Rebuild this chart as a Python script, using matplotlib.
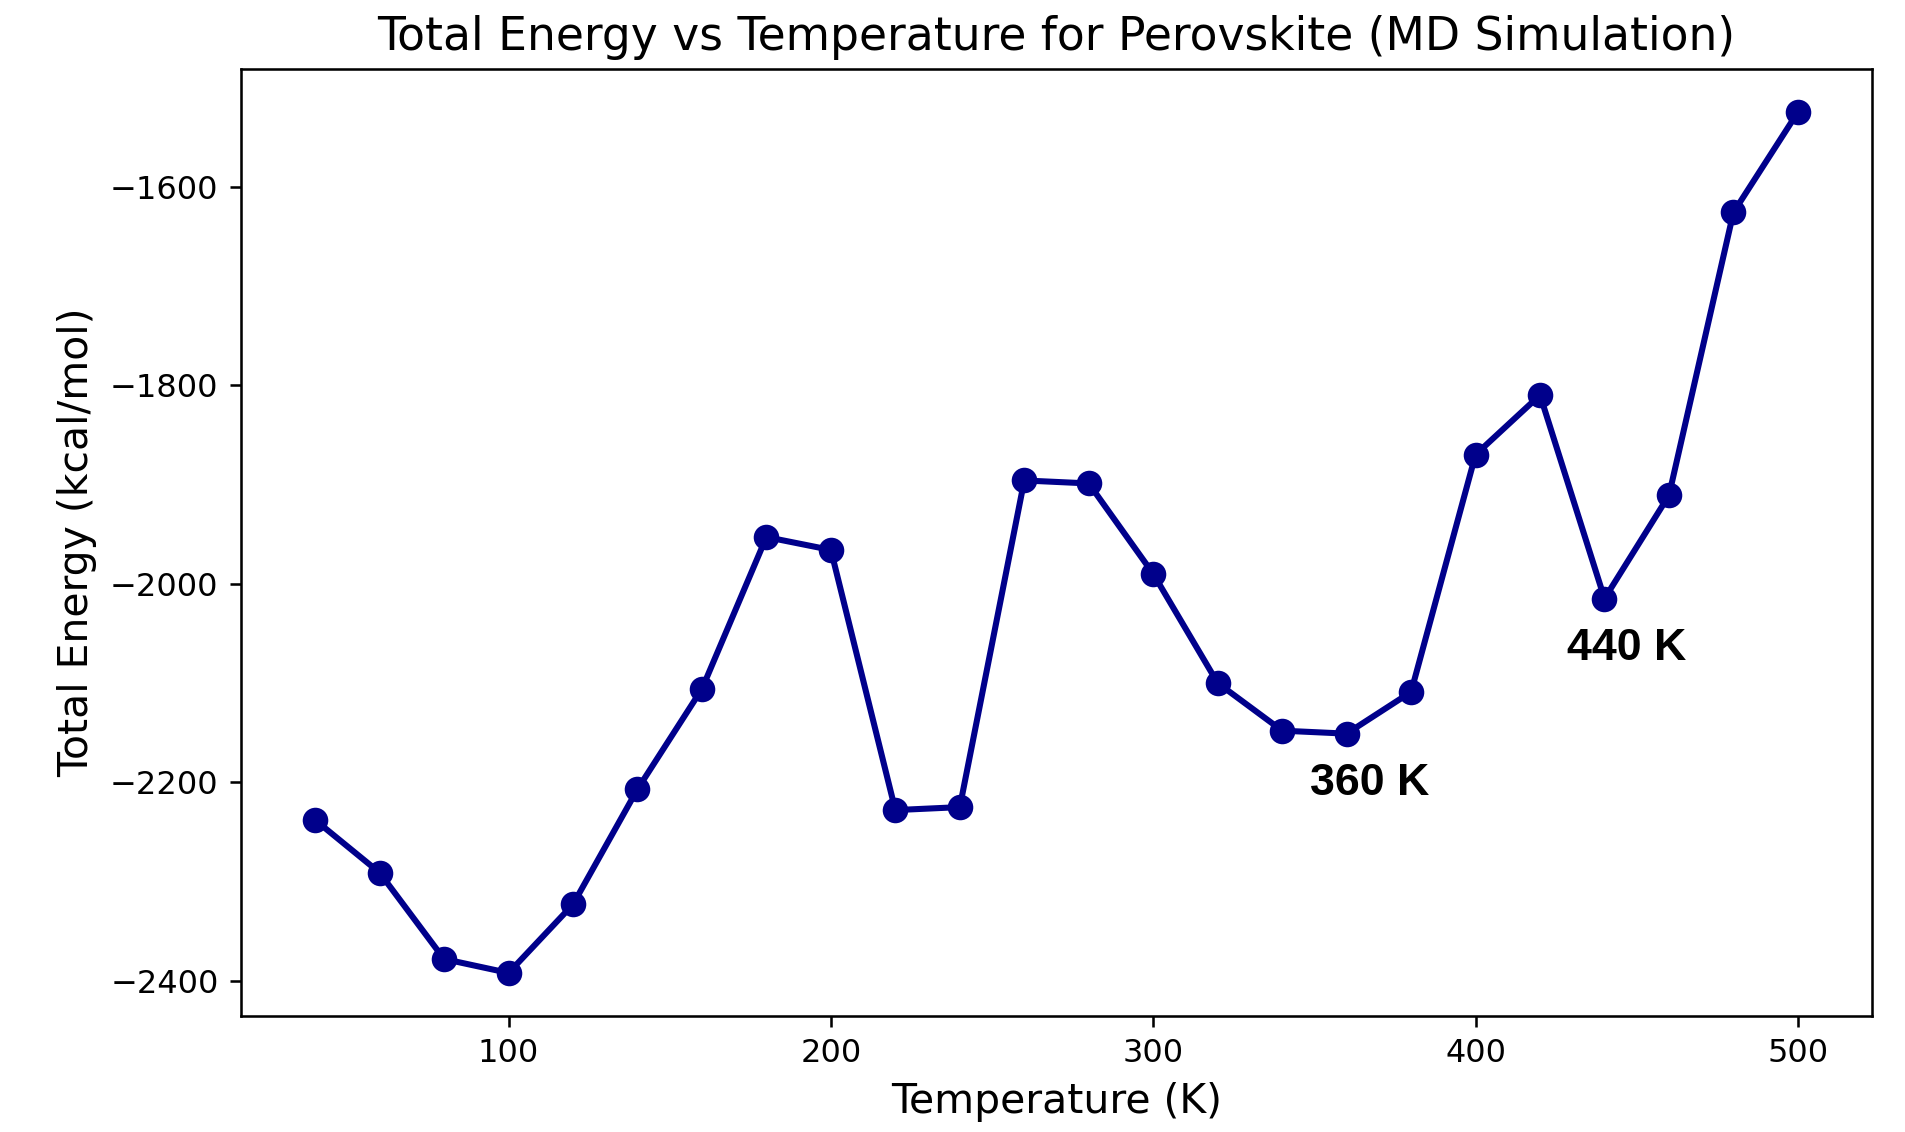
import matplotlib
matplotlib.use("Agg")
import matplotlib.pyplot as plt

# Simulation temperatures (K) and total energies (kcal/mol)
temperature = [40, 60, 80, 100, 120, 140, 160, 180, 200, 220, 240, 260,
               280, 300, 320, 340, 360, 380, 400, 420, 440, 460, 480, 500]
total_energy = [-2238, -2291, -2378, -2392, -2323, -2207, -2106, -1953,
                -1966, -2228, -2225, -1896, -1899, -1990, -2100, -2148,
                -2151, -2109, -1870, -1810, -2015, -1911, -1626, -1525]

# Local minima that get a text label
marked_temps = [360, 440]

DPI = 230
fig = plt.figure(figsize=(1905 / DPI, 1132 / DPI), dpi=DPI)
ax = fig.add_axes([0.1265, 0.1025, 0.8562, 0.8365])

ax.plot(temperature, total_energy, color="darkblue", marker="o",
        markersize=7, linewidth=1.9)

for t in marked_temps:
    e = total_energy[temperature.index(t)]
    ax.text(t + 7, e - 50, f"{t} K", ha="center", va="center",
            fontsize=14, fontweight="bold", family="Liberation Sans",
            color="black")

ax.set_title("Total Energy vs Temperature for Perovskite (MD Simulation)",
             fontsize=14.3)
ax.set_xlabel("Temperature (K)", fontsize=12.8)
ax.set_ylabel("Total Energy (kcal/mol)", fontsize=12.8)
ax.tick_params(labelsize=10)
ax.set_xticks([100, 200, 300, 400, 500])
ax.set_yticks([-2400, -2200, -2000, -1800, -1600])

fig.savefig("out.png", dpi=DPI)
